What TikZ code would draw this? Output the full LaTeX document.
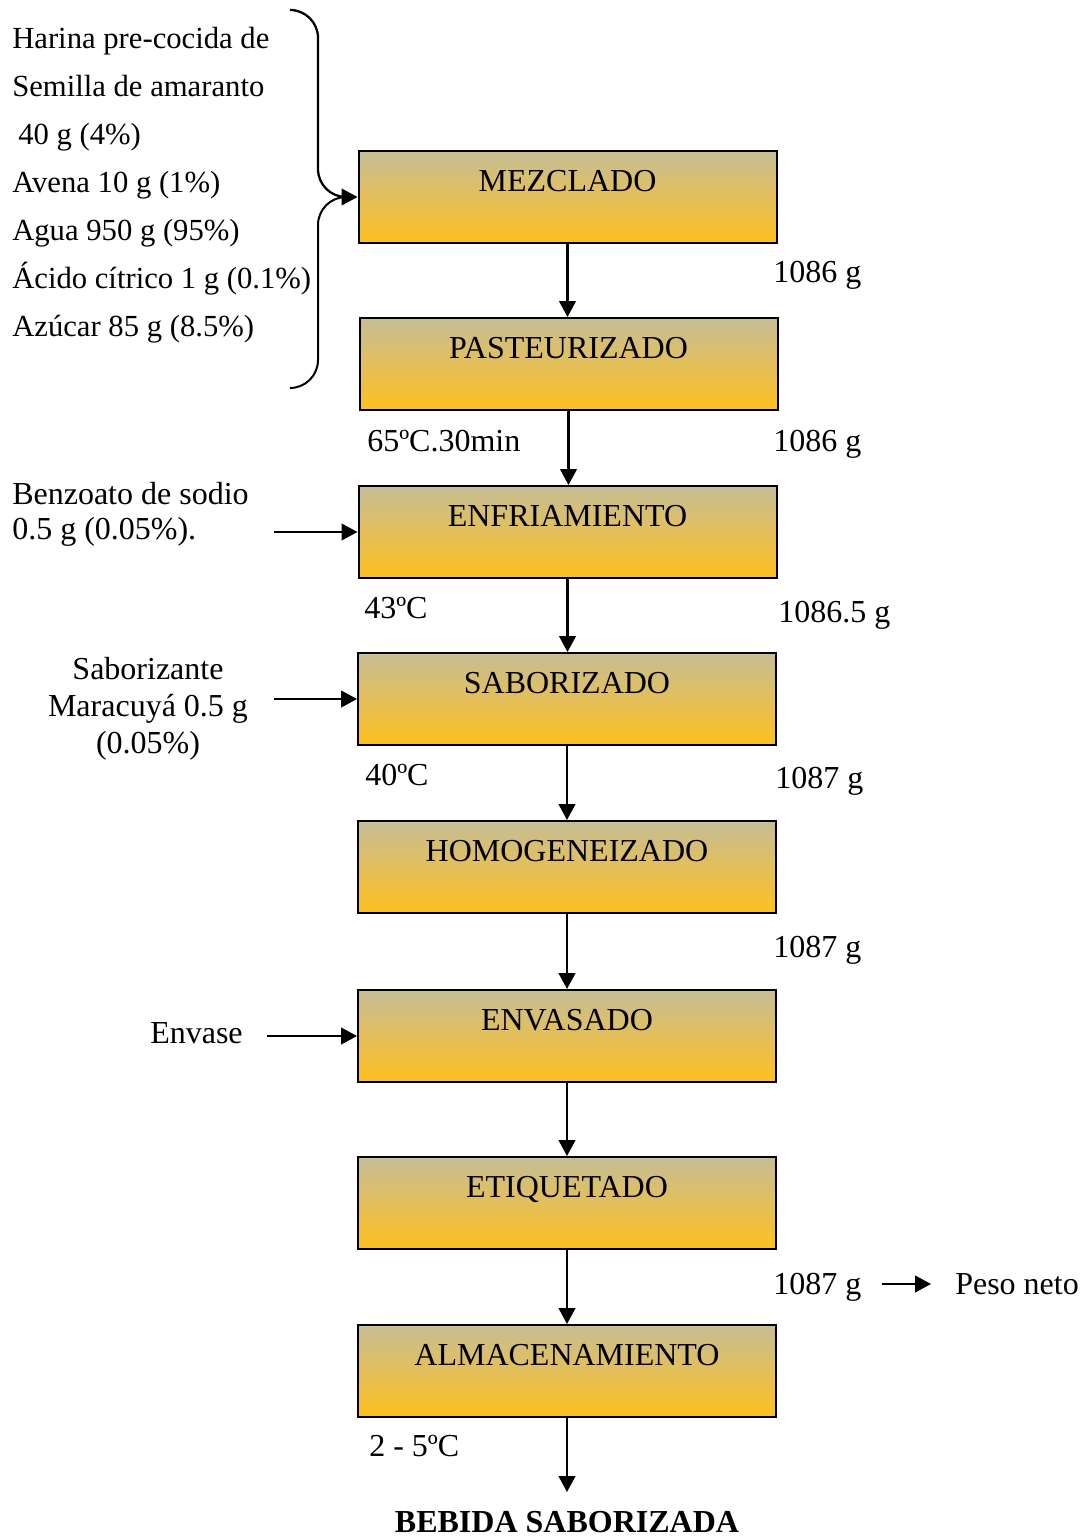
\documentclass[tikz,border=0pt]{standalone}
\usepackage{fontspec}
\setmainfont{Liberation Serif}
\usetikzlibrary{arrows.meta}
\begin{document}
\begin{tikzpicture}[x=0.75pt,y=-0.75pt,
  font=\fontsize{24}{36}\selectfont,
  stage/.style={draw=black, line width=1.5pt, inner sep=0pt,
    minimum width=313.5pt, text height=30pt, text depth=39pt,
    top color={rgb,255:red,198;green,190;blue,150},
    bottom color={rgb,255:red,255;green,192;blue,30}},
  arr/.style={line width=1.7pt, -{Triangle[length=12pt,width=12.5pt]}},
  lbl/.style={inner sep=0pt, anchor=base west},
  brace/.style={line width=1.5pt, rounded corners=21pt}]
\useasboundingbox (0,0) rectangle (1085,1538);

% process stages
\node[stage] (mez) at (567.5,197) {MEZCLADO};
\node[stage] (pas) at (568.5,364) {PASTEURIZADO};
\node[stage] (enf) at (567.5,532) {ENFRIAMIENTO};
\node[stage] (sab) at (567,699) {SABORIZADO};
\node[stage] (hom) at (567,867) {HOMOGENEIZADO};
\node[stage] (env) at (567,1036) {ENVASADO};
\node[stage] (eti) at (567,1203) {ETIQUETADO};
\node[stage] (alm) at (567,1371) {ALMACENAMIENTO};

\coordinate (fin) at (567,1492);
\node[lbl, anchor=base, font=\fontsize{24}{36}\selectfont\bfseries] (beb) at (567,1532) {BEBIDA SABORIZADA};

% main flow
\draw[arr] (mez.south) -- (mez.south |- pas.north);
\draw[arr] (pas.south) -- (pas.south |- enf.north);
\draw[arr] (enf.south) -- (enf.south |- sab.north);
\draw[arr] (sab.south) -- (hom.north);
\draw[arr] (hom.south) -- (env.north);
\draw[arr] (env.south) -- (eti.north);
\draw[arr] (eti.south) -- (alm.north);
\draw[arr] (alm.south) -- (fin);

% ingredients with brace
\node[inner sep=0pt, anchor=north west, align=left, font=\fontsize{23}{36}\selectfont] (ing) at (12,27)
  {Harina pre-cocida de\\Semilla de amaranto\\\hspace{4.5pt}40 g (4\%)\\Avena 10 g (1\%)\\Agua 950 g (95\%)\\Ácido cítrico 1 g (0.1\%)\\Azúcar 85 g (8.5\%)};
\coordinate (bt) at (290,10);
\coordinate (bb) at (290,388);
\coordinate (bx) at (318,0);
\coordinate (bj) at (345,0);
\draw[brace, arr] (bt) -- (bx |- bt) -- (bx |- mez.west) -- (mez.west);
\draw[brace] (bb) -- (bx |- bb) -- (bx |- mez.west) -- (bj |- mez.west);

% additions
\node[inner sep=0pt, anchor=north west, align=left, font=\fontsize{24}{26.5}\selectfont] (ben) at (12,482)
  {Benzoato de sodio\\0.5 g (0.05\%).};
\draw[arr] ([xshift=19pt]ben.east |- enf.west) -- (enf.west);
\node[inner sep=0pt, anchor=north, align=center, font=\fontsize{24}{27.75}\selectfont] (sbz) at (148,657)
  {Saborizante\\Maracuyá 0.5 g\\(0.05\%)};
\draw[arr] ([xshift=19pt]sbz.east |- sab.west) -- (sab.west);
\node[lbl] (envl) at (150,1043) {Envase};
\draw[arr] ([xshift=18pt]envl.east |- env.west) -- (env.west);

% conditions
\node[lbl] (t1) at (367,451) {65ºC.30min};
\node[lbl] (t2) at (364,618) {43ºC};
\node[lbl] (t3) at (365,785) {40ºC};
\node[lbl] (t4) at (369,1456) {2 - 5ºC};

% masses
\node[lbl] (w1) at (773,282) {1086 g};
\node[lbl] (w2) at (773,451) {1086 g};
\node[lbl] (w3) at (778,622) {1086.5 g};
\node[lbl] (w4) at (775,788) {1087 g};
\node[lbl] (w5) at (773,957) {1087 g};
\node[lbl] (w6) at (773,1294) {1087 g};
\node[lbl] (pn) at (955,1294) {Peso neto};
\draw[arr, shorten <=15pt, shorten >=18pt] ([yshift=7.5pt]w6.base east) -- ([yshift=7.5pt]pn.base west);
\end{tikzpicture}
\end{document}
